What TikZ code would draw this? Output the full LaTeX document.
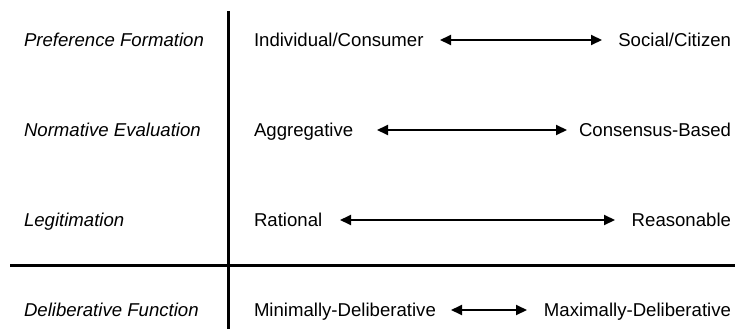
\documentclass[tikz,border=0pt]{standalone}
\usepackage{fontspec}
\setmainfont{Liberation Sans}
\usetikzlibrary{arrows.meta}
\begin{document}
\begin{tikzpicture}[x=1pt,y=-1pt,
  every node/.style={inner sep=0pt,outer sep=0pt,font=\fontsize{18.6}{22}\selectfont},
  lbl/.style={anchor=base west,font=\fontsize{18.6}{22}\selectfont\itshape},
  lft/.style={anchor=base west},
  rgt/.style={anchor=base east},
  rule/.style={line width=3pt},
  dbl/.style={line width=2pt,{Triangle[length=11pt,width=10pt]}-{Triangle[length=11pt,width=10pt]}}]
\useasboundingbox (0,0) rectangle (735,329);
% grid lines
\coordinate (vt) at (228,11);
\coordinate (vb) at (228,329);
\coordinate (hl) at (10,265);
\coordinate (hr) at (735,265);
\draw[rule] (vt) -- (vb);
\draw[rule] (hl) -- (hr);
% left labels
\node[lbl] (l1) at (24,46.7) {Preference Formation};
\node[lbl] (l2) at (24,136.7) {Normative Evaluation};
\node[lbl] (l3) at (24,226.7) {Legitimation};
\node[lbl] (l4) at (24,316.7) {Deliberative Function};
% right column texts
\node[lft] (a1) at (254,46.7) {Individual/Consumer};
\node[rgt] (b1) at (731,46.7) {Social/Citizen};
\node[lft] (a2) at (254,136.7) {Aggregative};
\node[rgt] (b2) at (731,136.7) {Consensus-Based};
\node[lft] (a3) at (254,226.7) {Rational};
\node[rgt] (b3) at (731,226.7) {Reasonable};
\node[lft] (a4) at (254,316.7) {Minimally-Deliberative};
\node[rgt] (b4) at (731,316.7) {Maximally-Deliberative};
% arrow ends
\coordinate (p1) at (440,40);  \coordinate (q1) at (602,40);
\coordinate (p2) at (377,130); \coordinate (q2) at (567,130);
\coordinate (p3) at (340,220); \coordinate (q3) at (615,220);
\coordinate (p4) at (451,310); \coordinate (q4) at (527,310);
\draw[dbl] (p1) -- (q1);
\draw[dbl] (p2) -- (q2);
\draw[dbl] (p3) -- (q3);
\draw[dbl] (p4) -- (q4);
\end{tikzpicture}
\end{document}
